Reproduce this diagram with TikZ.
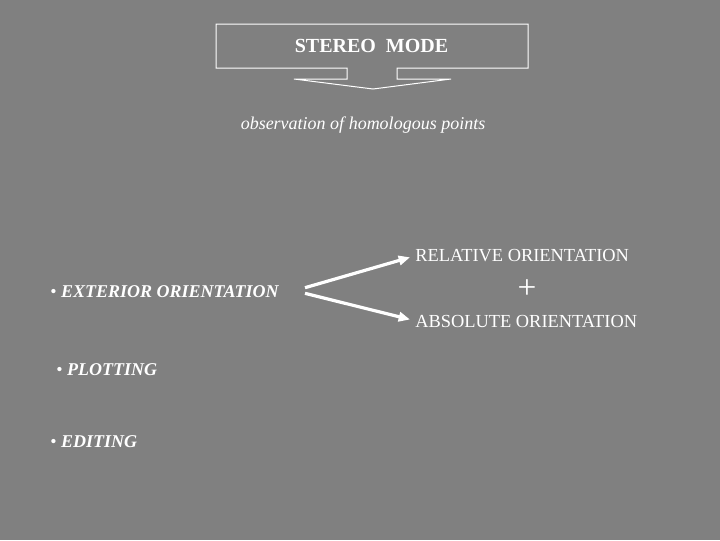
\documentclass[tikz,border=0pt]{standalone}
\usepackage{fontspec}
\setmainfont{Liberation Serif}
\usetikzlibrary{arrows.meta}
\definecolor{slide}{RGB}{128,128,128}
\newcommand{\txtsize}{\fontsize{13.8}{16}\selectfont}
\newcommand{\obssize}{\fontsize{13.5}{16}\selectfont}
\newcommand{\titlesize}{\fontsize{15}{18}\selectfont}
\newcommand{\plussize}{\fontsize{25}{28}\selectfont}
\newcommand{\bulletitem}[1]{\obssize\textbullet{} \textbf{\textit{#1}}}
\begin{document}
\begin{tikzpicture}[x=0.75pt,y=-0.75pt,
    every node/.style={text=white,inner sep=0pt},
    item/.style={anchor=base west,font=\txtsize},
    link/.style={draw=white,line width=2.4pt,-{Triangle[length=8.5pt,width=7pt]}}]
  \fill[slide] (0,0) rectangle (720,540);
  % title box with its arrow
  \draw[white,line width=0.75pt] (347,68) -- (216,68) -- (216,24) -- (528,24) -- (528,68)
    -- (397,68) -- (397,79) -- (451,79) -- (373,89) -- (294,79) -- (347,79) -- cycle;
  \node[anchor=base,font=\titlesize\bfseries] (mode) at (371.5,52.7) {STEREO\ \ MODE};
  \node[anchor=base,font=\obssize\itshape] (obs) at (363,129) {observation of homologous points};
  % orientation
  \node[item] (ext) at (50,297) {\bulletitem{EXTERIOR ORIENTATION}};
  \node[item] (rel) at (415,261) {RELATIVE ORIENTATION};
  \node[font=\plussize] (plus) at (527,289) {+};
  \node[item] (abs) at (415,327) {ABSOLUTE ORIENTATION};
  \node[item] (plot) at (56,375) {\bulletitem{PLOTTING}};
  \node[item] (edit) at (50,447) {\bulletitem{EDITING}};
  \coordinate (up) at (305,287.7);
  \coordinate (down) at (305,293.3);
  \coordinate (relend) at (410,257.3);
  \coordinate (absend) at (410,319.5);
  \draw[link] (up) -- (relend);
  \draw[link] (down) -- (absend);
\end{tikzpicture}
\end{document}
